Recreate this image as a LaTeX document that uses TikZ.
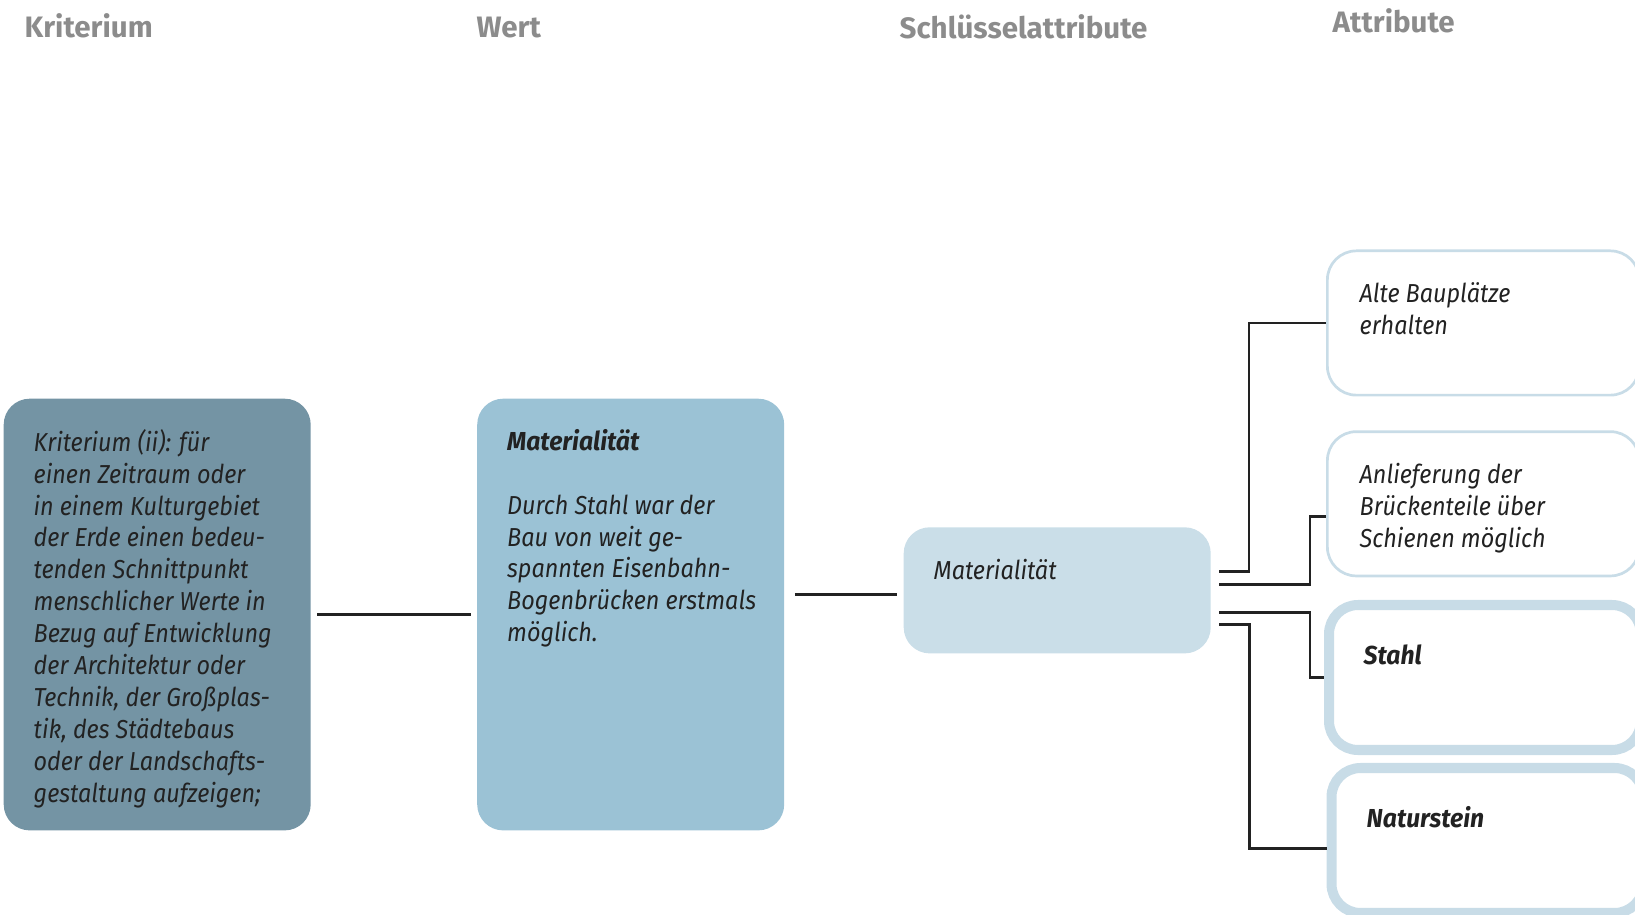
\documentclass[tikz,border=0pt]{standalone}
\usepackage{fontspec}
\setmainfont{Fira Sans}
\newfontfamily\bodyfam[FakeStretch=0.9,BoldItalicFeatures={FakeStretch=0.95}]{Fira Sans}
\usetikzlibrary{positioning,calc}
\definecolor{kritblue}{RGB}{116,148,164}
\definecolor{wertblue}{RGB}{155,194,213}
\definecolor{keyblue}{RGB}{202,222,232}
\definecolor{lineblue}{RGB}{200,220,231}
\definecolor{headgray}{RGB}{140,140,140}
\definecolor{ink}{RGB}{34,34,34}

\begin{document}
\begin{tikzpicture}[
  x=0.1mm, y=-0.1mm,
  head/.style={anchor=base west,inner sep=0,text=headgray,font=\fontsize{8.4}{10}\selectfont\bfseries},
  txt/.style={anchor=north west,inner sep=0,align=left,text=ink,
    font=\bodyfam\fontsize{7.4}{9.08}\selectfont\itshape,execute at begin node=\strut},
  box/.style={anchor=north west,rounded corners=2.6mm,minimum width=30.7mm},
  attr/.style={box,draw=lineblue,fill=white,line width=0.77pt,rounded corners=2.9mm,minimum width=31.2mm,minimum height=14.43mm},
  attrbold/.style={attr,line width=2.85pt,minimum height=14.5mm},
  conn/.style={line width=0.75pt,draw=ink}
]
\useasboundingbox (0,0) rectangle (1635,915);
\clip (0,0) rectangle (1635,915);

\node[head] (hkrit) at (24,38) {Kriterium};
\node[head] (hwert) at (476,38) {Wert};
\node[head] (hkey) at (899,39) {Schlüsselattribute};
\node[head] (hattr) at (1332,33) {Attribute};

\node[box,fill=kritblue,minimum height=43.17mm] (krit) at (3,398) {};
\node[box,fill=wertblue,minimum height=43.17mm] (wert) at (476.5,398) {};
\node[box,fill=keyblue,minimum height=12.61mm] (key) at (903,526.6) {};
\node[attr] (alt) at (1326,249.5) {};
\node[attr] (lief) at (1326,430.3) {};
\node[attrbold] (stahl) at (1324,600) {};
\node[attrbold] (stein) at (1326.5,763) {};

\node[txt] (kritT) at ([shift={(30,30.5)}]krit.north west)
  {Kriterium (ii): für\\einen Zeitraum oder\\in einem Kulturgebiet\\der Erde einen bedeu-\\tenden Schnittpunkt\\menschlicher Werte in\\Bezug auf Entwicklung\\der Architektur oder\\Technik, der Großplas-\\tik, des Städtebaus\\oder der Landschafts-\\gestaltung aufzeigen;};
\node[txt] (wertT) at ([shift={(30,30.5)}]wert.north west)
  {\textbf{Materialität}\\[9.08pt]Durch Stahl war der\\Bau von weit ge-\\spannten Eisenbahn-\\Bogenbrücken erstmals\\möglich.};
\node[txt] (keyT) at ([shift={(30,29.5)}]key.north west) {Materialität};
\node[txt] (altT) at ([shift={(33,32.5)}]alt.north west) {Alte Bauplätze\\erhalten};
\node[txt] (liefT) at ([shift={(33,32.5)}]lief.north west) {Anlieferung der\\Brückenteile über\\Schienen möglich};
\node[txt] (stahlT) at ([shift={(39,41)}]stahl.north west) {\textbf{Stahl}};
\node[txt] (steinT) at ([shift={(39.5,41)}]stein.north west) {\textbf{Naturstein}};

\coordinate (kw) at ($(key.west)+(-6,4)$);
\draw[conn] ([shift={(6,0)}]krit.east) -- ([shift={(-6,0)}]wert.west);
\draw[conn] ($(kw -| wert.east)+(10,0)$) -- (kw);
\draw[conn] ([shift={(8,-19)}]key.east) -| ([shift={(-77,0)}]alt.west) -- (alt.west);
\draw[conn] ([shift={(8,-6)}]key.east) -| ([shift={(-16,13)}]lief.west) -- ++(16,0);
\draw[conn] ([shift={(8,22)}]key.east) -| ([shift={(-14,0)}]stahl.west) -- (stahl.west);
\draw[conn] ([shift={(8,34)}]key.east) -| ([shift={(-77,8)}]stein.west) -- ++(77,0);
\end{tikzpicture}
\end{document}
